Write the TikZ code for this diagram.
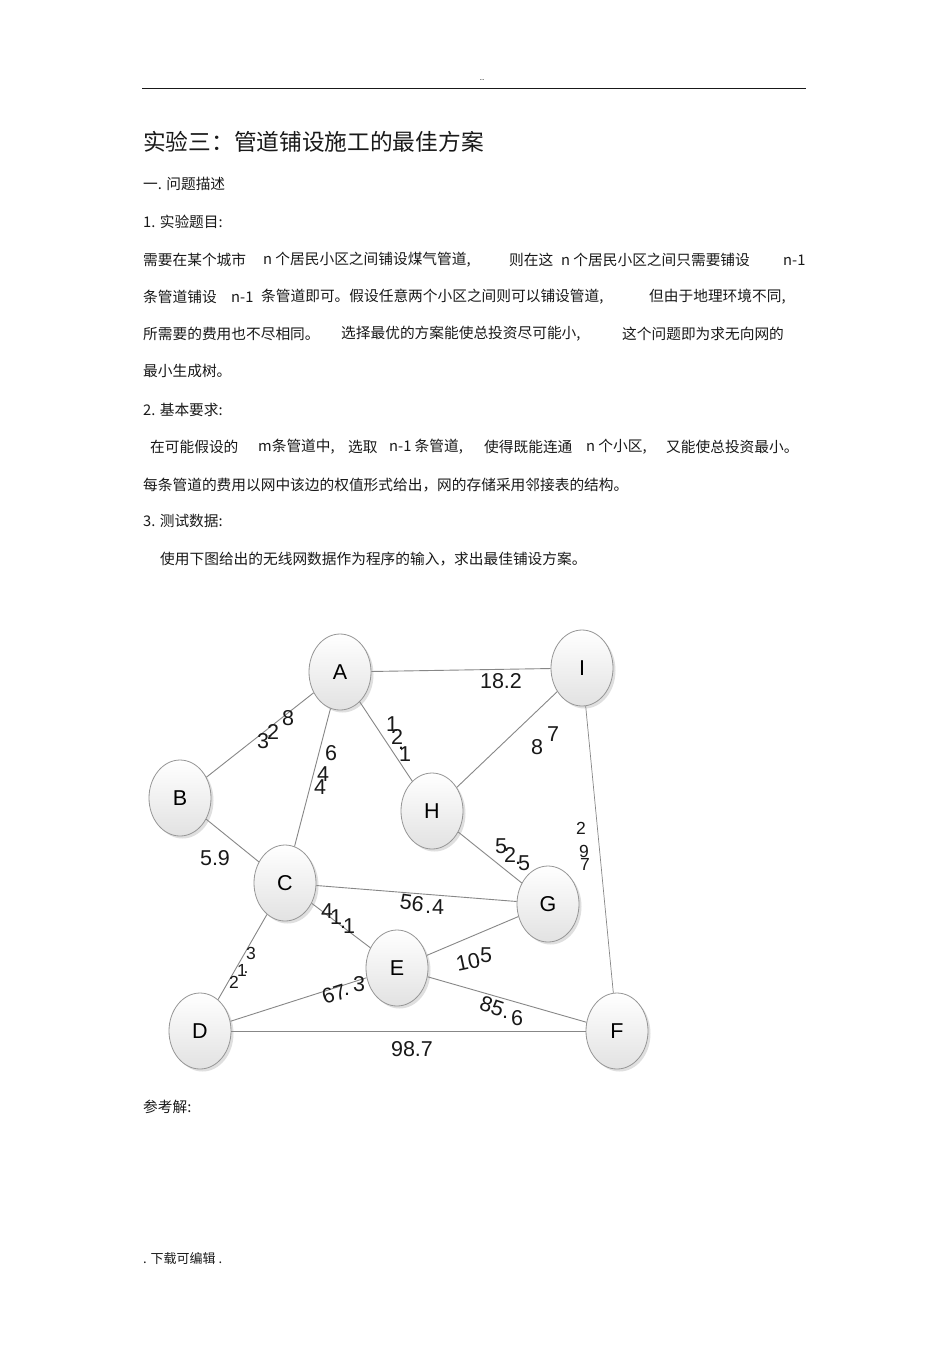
\documentclass[tikz,border=0pt]{standalone}
\usepackage{fontspec}
\usepackage{tikz}
\usetikzlibrary{shapes.geometric, shadows}
\setmainfont{Liberation Sans}
\newfontfamily\cjk{Noto Sans CJK SC}
\definecolor{rim}{RGB}{150, 150, 150}
\definecolor{pipegray}{RGB}{135, 135, 135}
\definecolor{fog}{RGB}{226, 226, 226}
\definecolor{ink}{RGB}{25, 25, 25}
\newcommand{\bodyfont}{\cjk\fontsize{14.7}{16}\selectfont}
\newcommand{\wtfont}{\fontsize{21.5}{21.5}\selectfont}
\newcommand{\smallwt}{\fontsize{17.5}{17.5}\selectfont}

\begin{document}
\begin{tikzpicture}[x=1pt, y=-1pt,
  site/.style={ellipse, draw=rim, line width=0.8, minimum width=62pt, minimum height=76pt,
    inner sep=0pt, top color=white, bottom color=fog,
    drop shadow={shadow xshift=2.5pt, shadow yshift=-2.5pt, opacity=0.25},
    font=\fontsize{21.5}{21.5}\selectfont},
  pipe/.style={draw=pipegray, line width=0.9},
  wt/.style={inner sep=0pt, font=\wtfont, text=ink},
  txt/.style={anchor=west, inner sep=0pt, font=\bodyfont, text=ink}]

  \fill[white] (0, 0) rectangle (950, 1345);
  \useasboundingbox (0, 0) rectangle (950, 1345);

  % page head
  \node[inner sep=0pt, font=\fontsize{8}{8}\selectfont] (dots) at (482, 80) {..};
  \draw[ink, line width=1] (142, 88) -- (806, 88);

  \node[txt, font=\cjk\fontsize{22.7}{24}\selectfont] (title) at (143, 142) {实验三：管道铺设施工的最佳方案};
  \node[txt] (s1) at (143, 184) {一. 问题描述};
  \node[txt] (s2) at (143, 222) {1. 实验题目:};

  \node[txt] (t1a) at (143, 260) {需要在某个城市};
  \node[txt] (t1b) at (263, 260) {n 个居民小区之间铺设煤气管道,};
  \node[txt] (t1c) at (509, 260) {则在这};
  \node[txt] (t1d) at (561, 260) {n 个居民小区之间只需要铺设};
  \node[txt] (t1e) at (783, 260) {n-1};

  \node[txt] (t2a) at (143, 297) {条管道铺设};
  \node[txt] (t2b) at (231, 297) {n-1};
  \node[txt] (t2c) at (261, 297) {条管道即可。假设任意两个小区之间则可以铺设管道,};
  \node[txt] (t2d) at (649, 297) {但由于地理环境不同,};

  \node[txt] (t3a) at (143, 334) {所需要的费用也不尽相同。};
  \node[txt] (t3b) at (341, 334) {选择最优的方案能使总投资尽可能小,};
  \node[txt] (t3c) at (622, 334) {这个问题即为求无向网的};

  \node[txt] (t4) at (143, 371) {最小生成树。};

  \node[txt] (s3) at (143, 410) {2. 基本要求:};

  \node[txt] (t5a) at (150, 447) {在可能假设的};
  \node[txt] (t5b) at (258, 447) {m条管道中,};
  \node[txt] (t5c) at (348, 447) {选取};
  \node[txt] (t5d) at (389, 447) {n-1 条管道,};
  \node[txt] (t5e) at (484, 447) {使得既能连通};
  \node[txt] (t5f) at (586, 447) {n 个小区,};
  \node[txt] (t5g) at (666, 447) {又能使总投资最小。};

  \node[txt] (t6) at (143, 485) {每条管道的费用以网中该边的权值形式给出，网的存储采用邻接表的结构。};

  \node[txt] (s4) at (143, 521) {3. 测试数据:};
  \node[txt] (t7) at (160, 559) {使用下图给出的无线网数据作为程序的输入，求出最佳铺设方案。};

  % the network
  \node[site] (A) at (340, 672) {A};
  \node[site] (B) at (180, 798) {B};
  \node[site] (H) at (432, 811) {H};
  \node[site] (I) at (582, 668) {I};
  \node[site] (C) at (285, 883) {C};
  \node[site] (E) at (397, 968) {E};
  \node[site] (D) at (200, 1031) {D};
  \node[site] (G) at (548, 904) {G};
  \node[site] (F) at (617, 1031) {F};

  \draw[pipe] (A) -- (B);
  \draw[pipe] (A) -- (I);
  \draw[pipe] (A) -- (H);
  \draw[pipe] (A) -- (C);
  \draw[pipe] (I) -- (H);
  \draw[pipe, line width=0.7] (I) -- (F);
  \draw[pipe] (H) -- (G);
  \draw[pipe] (B) -- (C);
  \draw[pipe] (C) -- (G);
  \draw[pipe] (C) -- (E);
  \draw[pipe] (C) -- (D);
  \draw[pipe] (D) -- (E);
  \draw[pipe] (E) -- (G);
  \draw[pipe] (E) -- (F);
  \draw[pipe] (D) -- (F);

  % weights, as scattered on the page
  \foreach \x/\y/\c [count=\i] in {
    263/741/3, 273/732/2, 288/718/8,
    331/753/6, 323/774/4, 320/787/4,
    392/724/1, 397/737/2, 401/748/., 405/754/1,
    537/747/8, 553/734/7,
    501/846/5, 510/855/2, 518/863/., 524/863/5,
    327/911/4, 336/917/1, 343/927/., 349/926/1,
    428/912/., 438/907/4,
    347/994/., 359/984/3,
    478/962/., 486/955/5,
    505/1017/., 517/1018/6}
    \node[wt] (w\i) at (\x, \y) {\c};
  \foreach \x/\y/\c [count=\i] in {
    581/828/2, 584/851/9, 585/864/7,
    251/953/3, 242/970/1, 246/973/., 234/982/2}
    \node[wt, font=\smallwt] (v\i) at (\x, \y) {\c};
  \node[wt, font=\fontsize{12}{12}\selectfont] (dash) at (270, 738) {-};

  \node[wt, rotate=-8] (w56) at (412, 903) {56};
  \node[wt, rotate=18] (w67) at (334, 994) {67};
  \node[wt, rotate=12] (w10) at (468, 962) {10};
  \node[wt, rotate=-18] (w85) at (492, 1006) {85};

  \node[wt] (w182) at (501, 681) {18.2};
  \node[wt] (w59) at (215, 858) {5.9};
  \node[wt] (w987) at (412, 1049) {98.7};

  \node[txt] (s5) at (143, 1107) {参考解:};
  \node[txt, font=\cjk\fontsize{13}{14}\selectfont] (foot) at (143, 1259) {. 下载可编辑 .};

\end{tikzpicture}
\end{document}
